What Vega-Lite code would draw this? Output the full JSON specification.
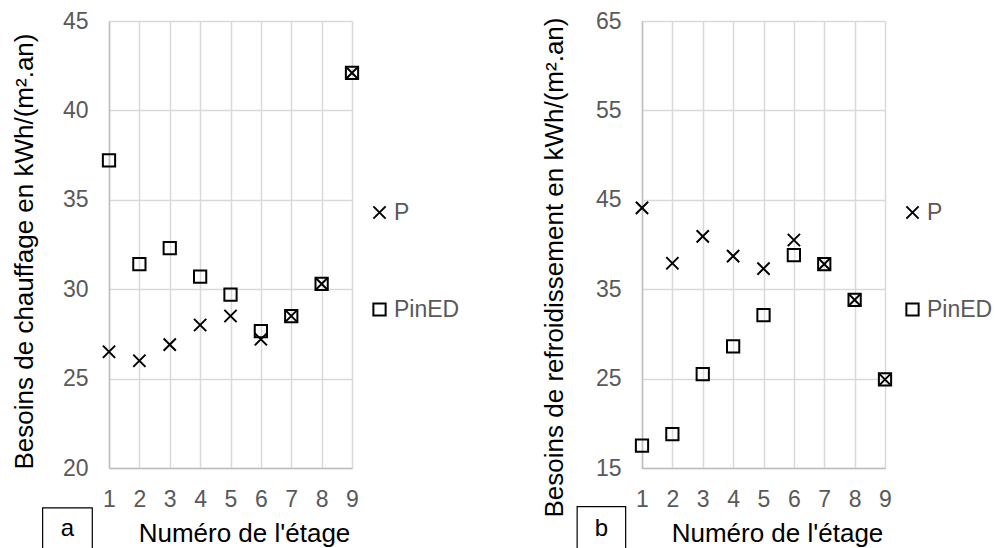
{
  "$schema": "https://vega.github.io/schema/vega-lite/v6.json",
  "background": "white",
  "padding": {"left": 11, "top": 10, "right": 0, "bottom": 0},
  "bounds": "flush",
  "spacing": 290,
  "resolve": {
    "scale": {"x": "independent", "y": "independent", "shape": "independent"},
    "legend": {"shape": "independent"}
  },
  "config": {
    "font": "Liberation Sans",
    "view": {"stroke": null},
    "axis": {
      "labelFont": "Liberation Sans",
      "titleFont": "Liberation Sans",
      "labelFontSize": 23,
      "titleFontSize": 26,
      "labelColor": "#595959",
      "titleColor": "black",
      "titleFontWeight": "normal",
      "ticks": false,
      "domainColor": "#bfbfbf",
      "domainWidth": 1.5,
      "gridColor": "#d9d9d9",
      "gridWidth": 1.5,
      "grid": true,
      "labelOverlap": false,
      "labelFlush": false
    },
    "axisX": {"labelPadding": 20, "titlePadding": 9, "labelAngle": 0, "titleX": 135},
    "axisY": {"labelPadding": 21, "titlePadding": 25}
  },
  "hconcat": [
    {
      "width": 243,
      "height": 447,
      "layer": [
        {
          "data": {"values": [
            {"etage": 1, "serie": "P", "valeur": 26.5},
            {"etage": 2, "serie": "P", "valeur": 26.0},
            {"etage": 3, "serie": "P", "valeur": 26.9},
            {"etage": 4, "serie": "P", "valeur": 28.0},
            {"etage": 5, "serie": "P", "valeur": 28.5},
            {"etage": 6, "serie": "P", "valeur": 27.2},
            {"etage": 7, "serie": "P", "valeur": 28.5},
            {"etage": 8, "serie": "P", "valeur": 30.3},
            {"etage": 9, "serie": "P", "valeur": 42.1},
            {"etage": 1, "serie": "PinED", "valeur": 37.2},
            {"etage": 2, "serie": "PinED", "valeur": 31.4},
            {"etage": 3, "serie": "PinED", "valeur": 32.3},
            {"etage": 4, "serie": "PinED", "valeur": 30.7},
            {"etage": 5, "serie": "PinED", "valeur": 29.7},
            {"etage": 6, "serie": "PinED", "valeur": 27.65},
            {"etage": 7, "serie": "PinED", "valeur": 28.5},
            {"etage": 8, "serie": "PinED", "valeur": 30.3},
            {"etage": 9, "serie": "PinED", "valeur": 42.1}
          ]},
          "mark": {"type": "point", "filled": false, "color": "black", "strokeWidth": 2, "size": 150, "opacity": 1},
          "encoding": {
            "x": {"field": "etage", "type": "quantitative",
                  "scale": {"domain": [1, 9], "nice": false, "zero": false},
                  "axis": {"values": [1, 2, 3, 4, 5, 6, 7, 8, 9], "labelOverlap": false, "title": "Numéro de l'étage"}},
            "y": {"field": "valeur", "type": "quantitative",
                  "scale": {"domain": [20, 45], "nice": false, "zero": false},
                  "axis": {"values": [20, 25, 30, 35, 40, 45], "labelOverlap": false, "title": "Besoins de chauffage en kWh/(m².an)", "titleY": 230}},
            "shape": {"field": "serie", "type": "nominal",
                      "scale": {"domain": ["P", "PinED"], "range": ["M-1,-1L1,1M-1,1L1,-1", "square"]},
                      "legend": {"orient": "none", "legendX": 259, "legendY": 180, "padding": 0, "rowPadding": 73,
                                 "labelOffset": 3, "symbolStrokeColor": "black", "symbolFillColor": "transparent",
                                 "symbolStrokeWidth": 2, "symbolSize": 150, "title": null,
                                 "labelFontSize": 23, "labelColor": "#595959", "labelFont": "Liberation Sans"}}
          }
        },
        {
          "data": {"values": [{"label": "a"}]},
          "mark": {"type": "rect", "fill": "transparent", "stroke": "black", "strokeWidth": 1.2},
          "encoding": {
            "x": {"datum": -1.185, "type": "quantitative", "axis": {"values": [1, 2, 3, 4, 5, 6, 7, 8, 9], "labelOverlap": false, "title": "Numéro de l'étage"}},
            "x2": {"datum": 0.45},
            "y": {"datum": 17.77, "type": "quantitative", "axis": {"values": [20, 25, 30, 35, 40, 45], "labelOverlap": false, "title": "Besoins de chauffage en kWh/(m².an)", "titleY": 230}},
            "y2": {"datum": 14.31}
          }
        },
        {
          "data": {"values": [{"label": "a"}]},
          "mark": {"type": "text", "fontSize": 24, "color": "black", "baseline": "alphabetic", "align": "center", "font": "Liberation Sans"},
          "encoding": {
            "x": {"datum": -0.37, "type": "quantitative", "axis": {"values": [1, 2, 3, 4, 5, 6, 7, 8, 9], "labelOverlap": false, "title": "Numéro de l'étage"}},
            "y": {"datum": 16.18, "type": "quantitative", "axis": {"values": [20, 25, 30, 35, 40, 45], "labelOverlap": false, "title": "Besoins de chauffage en kWh/(m².an)", "titleY": 230}},
            "text": {"field": "label", "type": "nominal"}
          }
        }
      ]
    },
    {
      "width": 243,
      "height": 447,
      "layer": [
        {
          "data": {"values": [
            {"etage": 1, "serie": "P", "valeur": 44.1},
            {"etage": 2, "serie": "P", "valeur": 37.9},
            {"etage": 3, "serie": "P", "valeur": 40.9},
            {"etage": 4, "serie": "P", "valeur": 38.7},
            {"etage": 5, "serie": "P", "valeur": 37.3},
            {"etage": 6, "serie": "P", "valeur": 40.5},
            {"etage": 7, "serie": "P", "valeur": 37.8},
            {"etage": 8, "serie": "P", "valeur": 33.8},
            {"etage": 9, "serie": "P", "valeur": 24.9},
            {"etage": 1, "serie": "PinED", "valeur": 17.5},
            {"etage": 2, "serie": "PinED", "valeur": 18.8},
            {"etage": 3, "serie": "PinED", "valeur": 25.5},
            {"etage": 4, "serie": "PinED", "valeur": 28.6},
            {"etage": 5, "serie": "PinED", "valeur": 32.1},
            {"etage": 6, "serie": "PinED", "valeur": 38.8},
            {"etage": 7, "serie": "PinED", "valeur": 37.8},
            {"etage": 8, "serie": "PinED", "valeur": 33.8},
            {"etage": 9, "serie": "PinED", "valeur": 24.9}
          ]},
          "mark": {"type": "point", "filled": false, "color": "black", "strokeWidth": 2, "size": 150, "opacity": 1},
          "encoding": {
            "x": {"field": "etage", "type": "quantitative",
                  "scale": {"domain": [1, 9], "nice": false, "zero": false},
                  "axis": {"values": [1, 2, 3, 4, 5, 6, 7, 8, 9], "labelOverlap": false, "title": "Numéro de l'étage"}},
            "y": {"field": "valeur", "type": "quantitative",
                  "scale": {"domain": [15, 65], "nice": false, "zero": false},
                  "axis": {"values": [15, 25, 35, 45, 55, 65], "labelOverlap": false, "title": "Besoins de refroidissement en kWh/(m².an)", "titleY": 246, "titlePadding": 28}},
            "shape": {"field": "serie", "type": "nominal",
                      "scale": {"domain": ["P", "PinED"], "range": ["M-1,-1L1,1M-1,1L1,-1", "square"]},
                      "legend": {"orient": "none", "legendX": 259, "legendY": 180, "padding": 0, "rowPadding": 73,
                                 "labelOffset": 3, "symbolStrokeColor": "black", "symbolFillColor": "transparent",
                                 "symbolStrokeWidth": 2, "symbolSize": 150, "title": null,
                                 "labelFontSize": 23, "labelColor": "#595959", "labelFont": "Liberation Sans"}}
          }
        },
        {
          "data": {"values": [{"label": "b"}]},
          "mark": {"type": "rect", "fill": "transparent", "stroke": "black", "strokeWidth": 1.2},
          "encoding": {
            "x": {"datum": -1.135, "type": "quantitative", "axis": {"values": [1, 2, 3, 4, 5, 6, 7, 8, 9], "labelOverlap": false, "title": "Numéro de l'étage"}},
            "x2": {"datum": 0.462},
            "y": {"datum": 10.69, "type": "quantitative", "axis": {"values": [15, 25, 35, 45, 55, 65], "labelOverlap": false, "title": "Besoins de refroidissement en kWh/(m².an)", "titleY": 246, "titlePadding": 28}},
            "y2": {"datum": 3.7}
          }
        },
        {
          "data": {"values": [{"label": "b"}]},
          "mark": {"type": "text", "fontSize": 24, "color": "black", "baseline": "alphabetic", "align": "center", "font": "Liberation Sans"},
          "encoding": {
            "x": {"datum": -0.337, "type": "quantitative", "axis": {"values": [1, 2, 3, 4, 5, 6, 7, 8, 9], "labelOverlap": false, "title": "Numéro de l'étage"}},
            "y": {"datum": 7.43, "type": "quantitative", "axis": {"values": [15, 25, 35, 45, 55, 65], "labelOverlap": false, "title": "Besoins de refroidissement en kWh/(m².an)", "titleY": 246, "titlePadding": 28}},
            "text": {"field": "label", "type": "nominal"}
          }
        }
      ]
    }
  ]
}
